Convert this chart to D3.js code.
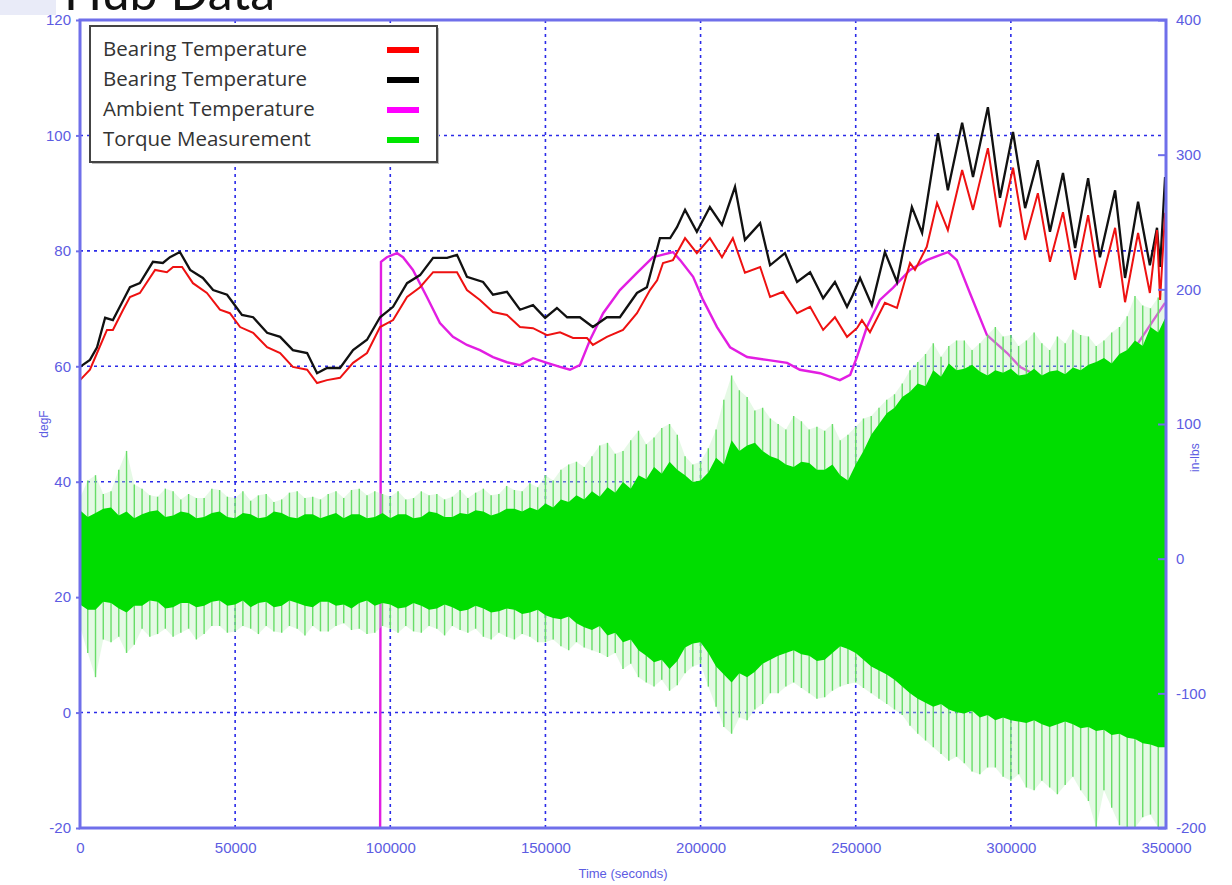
<!DOCTYPE html>
<html>
<head>
<meta charset="utf-8">
<script src="https://cdn.jsdelivr.net/npm/d3@7"></script>
<style>
  body { margin: 0; background: #fff; }
  svg { display: block; }
</style>
</head>
<body>
<div id="chart"></div>
<script>
// --- data ---
var redTime = [0,3200,5500,8700,10600,13900,16100,19300,24200,28000,30000,32900,36400,40900,45100,48300,51600,55800,60300,64500,68600,73200,76400,79600,83800,88000,92500,96700,100900,105400,109600,113800,118300,121500,124700,128900,133100,137600,141800,146000,150500,154700,158900,163400,165300,169800,175000,179500,183700,186000,187900,191100,195000,198800,203000,206900,210400,214300,219200,222400,226600,231100,235300,239500,243300,247200,250400,252000,254600,259400,263300,267500,269100,272900,276200,279700,284300,287800,292600,296500,300700,304600,308700,312600,316800,320700,324900,328700,333600,336800,341000,344800,347100,348100,349700];
var redTemp = [57.6,59.4,62.3,66.3,66.3,69.8,72.0,72.7,76.7,76.3,77.2,77.2,74.4,72.7,69.8,69.2,66.8,65.8,63.3,62.3,59.9,59.4,57.1,57.6,58.0,60.6,62.3,66.8,68.0,72.0,73.7,76.3,76.3,76.3,73.2,71.5,69.4,68.9,66.8,66.6,65.4,65.9,64.9,64.9,63.7,65.1,66.3,69.2,73.2,74.9,77.9,78.4,82.2,79.6,82.2,78.9,82.2,76.2,77.2,72.0,72.9,69.2,70.3,66.3,68.5,65.1,66.6,68.0,65.9,71.0,70.1,77.9,76.7,80.7,88.3,83.6,94.0,87.1,97.8,84.1,94.4,81.9,90.0,78.1,86.7,75.0,86.2,73.6,84.0,71.1,83.1,72.7,83.6,71.5,86.6];

var blackTime = [0,3200,5500,8100,10600,13500,16100,19300,23500,26700,29000,32200,35500,39600,42900,47400,49300,52200,55800,60300,64500,68600,73200,76400,79600,83800,88000,92500,96700,100900,105400,109600,113800,118300,121500,124700,129900,133100,137600,141800,146000,149900,153700,157000,161100,165300,169800,174000,179500,182700,186900,190200,192400,195000,198800,203000,206900,211100,214300,219200,222400,227200,231100,235300,239500,243300,247200,249100,251400,255200,259400,263300,268100,271400,276500,279700,284300,287800,292600,296500,300700,304600,308700,312600,316800,320700,324900,328700,333600,336800,341000,344800,347100,348100,349700];
var blackTemp = [59.9,61.1,63.3,68.4,68.0,71.0,73.7,74.4,78.1,77.9,78.9,79.8,76.7,75.3,73.2,72.4,71.0,68.9,68.5,65.8,65.1,62.8,62.3,58.8,59.7,59.7,62.8,64.6,68.5,70.3,74.4,75.8,78.8,78.8,79.3,75.5,74.6,72.4,72.9,69.8,70.6,68.4,70.1,68.5,68.5,66.8,68.5,68.5,72.7,73.7,82.2,82.2,84.1,87.1,83.3,87.6,84.5,91.1,81.9,84.8,77.5,79.6,74.6,76.3,71.8,74.6,70.3,72.4,75.3,70.6,79.8,74.6,87.6,83.1,100.4,90.5,102.2,92.8,104.9,89.2,100.6,87.4,95.7,83.3,93.5,80.5,92.6,78.9,90.5,75.3,88.5,77.5,84.0,77.2,92.8];

var ambientTime = [96700,97000,98900,102200,104100,107300,111800,116000,120200,124700,128900,133100,137600,141800,146000,150500,154700,157900,161100,164400,168600,174000,179500,184700,191100,193400,197600,200800,205300,209500,215000,221400,227900,232000,238500,244900,248200,250400,253600,257800,262000,267500,272900,279700,282600,286800,292300,298800,302900,309400,318100,326500,333000,339000,341000,349700];
var ambientTemp = [-30,78.1,78.9,79.6,78.9,76.7,72.0,67.5,65.1,63.7,62.8,61.6,60.7,60.2,61.4,60.6,59.9,59.4,60.2,64.6,69.2,73.2,76.2,78.9,79.8,78.4,75.5,71.5,66.8,63.3,61.6,61.1,60.6,59.4,58.8,57.6,58.5,61.6,66.8,71.5,73.6,76.7,78.4,79.8,78.4,72.7,65.4,62.3,59.9,58.1,57.1,55.4,54.5,56.5,64.0,71.0];

// torque envelope, one value every 2500 s (in-lbs)
var torqueTime = d3.range(0, 350001, 2500);
var torqueCoreHi = [
  36,31,34,37,38,32,35,30,33,35,
  36,31,32,35,34,30,31,34,35,31,
  30,34,33,30,31,35,34,31,30,33,
  33,30,32,34,30,33,33,30,31,34,
  30,33,33,30,31,35,34,31,31,34,
  33,36,35,32,34,37,37,35,38,36,
  41,38,44,42,47,44,50,46,53,49,
  57,52,62,59,68,63,72,66,62,57,
  58,64,75,70,88,80,84,86,80,76,
  74,70,68,72,71,66,66,70,62,58,
  70,80,92,100,108,112,120,124,130,128,
  140,135,145,140,141,144,139,136,140,138,
  141,136,137,141,136,139,140,137,142,140,
  144,146,149,145,152,155,162,158,172,168,
  180];
var torqueCoreLo = [
  -34,-38,-38,-32,-33,-37,-40,-35,-35,-31,
  -32,-37,-36,-33,-33,-36,-35,-32,-31,-35,
  -34,-31,-36,-33,-32,-36,-35,-31,-33,-35,
  -36,-32,-32,-35,-34,-37,-33,-31,-35,-33,
  -34,-37,-36,-33,-35,-38,-37,-34,-36,-39,
  -38,-35,-37,-40,-39,-37,-38,-41,-40,-38,
  -42,-44,-45,-43,-48,-51,-53,-50,-57,-55,
  -62,-60,-68,-72,-77,-75,-82,-76,-66,-63,
  -62,-70,-80,-86,-92,-85,-88,-84,-78,-75,
  -72,-70,-68,-71,-72,-76,-75,-70,-65,-67,
  -70,-75,-80,-83,-86,-90,-95,-100,-104,-107,
  -110,-108,-112,-114,-115,-113,-118,-116,-120,-118,
  -120,-121,-122,-120,-123,-125,-123,-121,-123,-126,
  -125,-128,-127,-131,-130,-133,-134,-137,-138,-140,
  -140];
var torqueSpikeHi = [
  45,58,62,48,50,66,80,55,52,47,
  46,52,50,44,48,45,45,52,51,46,
  45,50,43,47,48,42,44,49,50,45,
  46,44,48,50,45,51,52,47,50,48,
  46,50,44,45,50,47,48,44,46,51,
  45,49,52,47,48,54,51,50,56,53,
  62,58,66,70,72,68,76,84,86,78,
  80,88,95,85,90,97,100,92,76,70,
  72,82,96,118,136,125,120,110,112,104,
  100,96,106,102,96,98,95,100,88,92,
  98,104,106,112,118,122,130,140,146,152,
  160,150,158,162,162,155,160,166,172,165,
  166,158,162,168,160,155,165,160,170,166,
  165,158,162,168,172,180,195,188,186,194,
  200];
var torqueSpikeLo = [
  -50,-70,-88,-60,-62,-58,-70,-64,-52,-58,
  -56,-52,-58,-55,-52,-60,-56,-50,-50,-55,
  -54,-50,-52,-56,-50,-54,-55,-50,-52,-57,
  -50,-54,-54,-50,-48,-53,-52,-56,-55,-50,
  -52,-55,-50,-54,-55,-50,-52,-57,-50,-53,
  -55,-52,-58,-60,-55,-58,-60,-56,-58,-62,
  -62,-60,-65,-68,-62,-66,-68,-70,-73,-70,
  -82,-78,-88,-92,-95,-90,-98,-94,-85,-80,
  -78,-95,-110,-125,-130,-118,-120,-112,-108,-100,
  -100,-95,-92,-96,-100,-104,-103,-98,-95,-93,
  -92,-96,-100,-104,-108,-112,-116,-124,-130,-135,
  -140,-145,-150,-147,-152,-158,-160,-155,-155,-162,
  -165,-160,-170,-172,-165,-170,-175,-168,-162,-172,
  -180,-200,-172,-185,-198,-200,-200,-192,-190,-200,
  -200];

var degTicks = [-20,0,20,40,60,80,100,120];
var lbsTicks = [-200,-100,0,100,200,300,400];
var timeTicks = [0,50000,100000,150000,200000,250000,300000,350000];

var legendNames = ["Bearing Temperature","Bearing Temperature","Ambient Temperature","Torque Measurement"];
var legendColors = ["#ff0000","#000000","#ff00ff","#00e600"];

// --- layout ---
var width = 1232,
    height = 885,
    plotL = 80, plotR = 1166, plotT = 20, plotB = 828;
var axisBlue = "#6f6fea";

var x = d3.scaleLinear().domain([0, 350000]).range([plotL, plotR]);
var yDeg = d3.scaleLinear().domain([-20, 120]).range([plotB, plotT]);
var yLbs = d3.scaleLinear().domain([-200, 400]).range([plotB, plotT]);

var svg = d3.select("#chart").append("svg")
    .attr("width", width)
    .attr("height", height);

// the cropped slide title above the chart
svg.append("rect").attr("x", 0).attr("y", 0).attr("width", 56).attr("height", 15).attr("fill", "#e9ebf8");
svg.append("text")
    .attr("x", 64).attr("y", 10)
    .style("font-family", "Lato, 'DejaVu Sans', sans-serif")
    .style("font-size", "50px")
    .attr("fill", "#111")
    .text("Hub Data");

svg.append("clipPath").attr("id", "plotclip")
  .append("rect").attr("x", plotL).attr("y", plotT).attr("width", plotR - plotL).attr("height", plotB - plotT);

// grid
var grid = svg.append("g").attr("stroke", "#2b2be8").attr("stroke-width", 1.6).attr("stroke-dasharray", "3,4");
grid.selectAll("line.h")
    .data(degTicks.filter(function(d) { return d > -20 && d < 120; }))
    .enter().append("line")
    .attr("x1", plotL).attr("x2", plotR)
    .attr("y1", function(d) { return yDeg(d); })
    .attr("y2", function(d) { return yDeg(d); });
grid.selectAll("line.v")
    .data(timeTicks.filter(function(d) { return d > 0 && d < 350000; }))
    .enter().append("line")
    .attr("y1", plotT).attr("y2", plotB)
    .attr("x1", function(d) { return x(d); })
    .attr("x2", function(d) { return x(d); });

var plot = svg.append("g").attr("clip-path", "url(#plotclip)");

var tempLine = d3.line()
    .x(function(d) { return x(d[0]); })
    .y(function(d) { return yDeg(d[1]); });

function pairs(ts, vs) { return ts.map(function(t, i) { return [t, vs[i]]; }); }

// ambient first, the torque covers it
plot.append("path")
    .datum(pairs(ambientTime, ambientTemp))
    .attr("d", tempLine)
    .attr("fill", "none").attr("stroke", "#e21ee2").attr("stroke-width", 2.4);

var torque = torqueTime.map(function(t, i) {
  return { t: t, hi: torqueCoreHi[i], lo: torqueCoreLo[i], shi: torqueSpikeHi[i], slo: torqueSpikeLo[i] };
});

plot.append("path")
    .datum(torque)
    .attr("d", d3.area()
        .x(function(d) { return x(d.t); })
        .y0(function(d) { return yLbs(d.slo); })
        .y1(function(d) { return yLbs(d.shi); }))
    .attr("fill", "#b4efb4").attr("opacity", 0.35);

plot.selectAll("line.spike")
    .data(torque)
    .enter().append("line")
    .attr("x1", function(d) { return x(d.t); })
    .attr("x2", function(d) { return x(d.t); })
    .attr("y1", function(d) { return yLbs(d.slo); })
    .attr("y2", function(d) { return yLbs(d.shi); })
    .attr("stroke", "#68dd68").attr("stroke-width", 1.4);

plot.append("path")
    .datum(torque)
    .attr("d", d3.area()
        .x(function(d) { return x(d.t); })
        .y0(function(d) { return yLbs(d.lo); })
        .y1(function(d) { return yLbs(d.hi); }))
    .attr("fill", "#00dd00");

plot.append("path")
    .datum(pairs(blackTime, blackTemp))
    .attr("d", tempLine)
    .attr("fill", "none").attr("stroke", "#111").attr("stroke-width", 2.3);

plot.append("path")
    .datum(pairs(redTime, redTemp))
    .attr("d", tempLine)
    .attr("fill", "none").attr("stroke", "#ee1111").attr("stroke-width", 2);

// axes
var labelFont = "Liberation Sans, Arial, sans-serif";
var plain = function(d) { return String(d); };

var leftAxis = svg.append("g")
    .attr("transform", "translate(" + plotL + ",0)")
    .call(d3.axisLeft(yDeg).tickValues(degTicks).tickFormat(plain).tickSize(4).tickPadding(5));
var rightAxis = svg.append("g")
    .attr("transform", "translate(" + plotR + ",0)")
    .call(d3.axisRight(yLbs).tickValues(lbsTicks).tickFormat(plain).tickSize(-8).tickPadding(10));
var bottomAxis = svg.append("g")
    .attr("transform", "translate(0," + plotB + ")")
    .call(d3.axisBottom(x).tickValues(timeTicks).tickFormat(plain).tickSize(0).tickPadding(14));

[leftAxis, rightAxis, bottomAxis].forEach(function(g) {
  g.select(".domain").remove();
  g.selectAll(".tick line").attr("stroke", axisBlue).attr("stroke-width", 2);
  g.selectAll(".tick text")
      .attr("fill", "#5c5ce2")
      .style("font-family", labelFont)
      .style("font-size", "15px");
});

// frame
svg.append("rect")
    .attr("x", plotL).attr("y", plotT)
    .attr("width", plotR - plotL).attr("height", plotB - plotT)
    .attr("fill", "none").attr("stroke", axisBlue).attr("stroke-width", 3);

svg.append("text")
    .attr("transform", "translate(48," + ((plotT + plotB) / 2) + ") rotate(-90)")
    .attr("text-anchor", "middle")
    .attr("fill", "#5c5ce2")
    .style("font-family", labelFont).style("font-size", "12px")
    .text("degF");
svg.append("text")
    .attr("transform", "translate(1199," + (yLbs(75)) + ") rotate(-90)")
    .attr("text-anchor", "middle")
    .attr("fill", "#5c5ce2")
    .style("font-family", labelFont).style("font-size", "12px")
    .text("in-lbs");
svg.append("text")
    .attr("x", (plotL + plotR) / 2).attr("y", 878)
    .attr("text-anchor", "middle")
    .attr("fill", "#5c5ce2")
    .style("font-family", labelFont).style("font-size", "13px")
    .text("Time (seconds)");

// legend
var legend = svg.append("g").attr("transform", "translate(90,26)");
legend.append("rect")
    .attr("x", 2).attr("y", 2).attr("width", 347).attr("height", 136)
    .attr("fill", "#bbb");
legend.append("rect")
    .attr("width", 347).attr("height", 136)
    .attr("fill", "#fff").attr("stroke", "#444").attr("stroke-width", 2);
var item = legend.selectAll("g.item")
    .data(legendNames)
    .enter().append("g")
    .attr("transform", function(d, i) { return "translate(0," + (30 + i * 30) + ")"; });
item.append("text")
    .attr("x", 13)
    .attr("fill", "#333")
    .style("font-family", "'Open Sans', sans-serif")
    .style("font-size", "20.5px")
    .text(function(d) { return d; });
item.append("line")
    .attr("x1", 297).attr("x2", 329)
    .attr("y1", -6).attr("y2", -6)
    .attr("stroke", function(d, i) { return legendColors[i]; })
    .attr("stroke-width", 6);
</script>
</body>
</html>
